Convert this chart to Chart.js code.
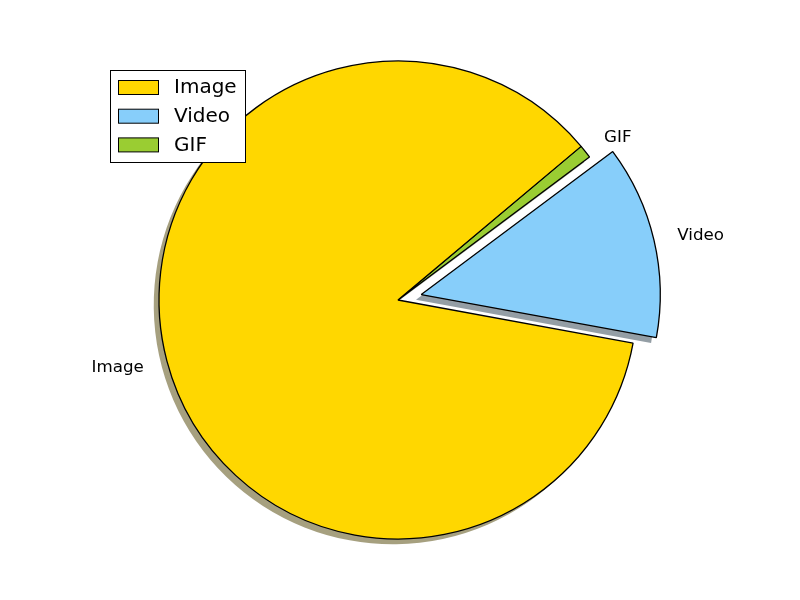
<!DOCTYPE html>
<html>
<head>
<meta charset="utf-8">
<script src="https://cdn.jsdelivr.net/npm/chart.js@4"></script>
<style>
  html, body { margin: 0; padding: 0; background: #fff; }
  #wrap { width: 800px; height: 600px; }
</style>
</head>
<body>
<div id="wrap"><canvas id="pieChart" width="800" height="600"></canvas></div>
<script>
// Data, in legend order
const categories = ['Image', 'Video', 'GIF'];
const shares = [86.0, 13.1, 0.9];
const colors = ['#FFD700', '#87CEFA', '#9ACD32'];
const explode = [0, 0.1, 0]; // fraction of radius

// Chart.js draws clockwise, matplotlib counter-clockwise, so feed them reversed
const order = [2, 1, 0];
const pieLabels = order.map(i => categories[i]);
const pieValues = order.map(i => shares[i]);
const pieColors = order.map(i => colors[i]);
const pieExplode = order.map(i => explode[i]);

// darker, half transparent copy of a hex colour (like matplotlib's Shadow)
function shadowOf(hex) {
    const r = parseInt(hex.substr(1, 2), 16) * 0.3;
    const g = parseInt(hex.substr(3, 2), 16) * 0.3;
    const b = parseInt(hex.substr(5, 2), 16) * 0.3;
    return 'rgba(' + r + ',' + g + ',' + b + ',0.5)';
}

// where a wedge really sits once it's pulled out
function wedgeCenter(arc, i) {
    const p = arc.getProps(['x', 'y', 'startAngle', 'endAngle', 'outerRadius']);
    const mid = (p.startAngle + p.endAngle) / 2;
    const off = pieExplode[i] * p.outerRadius;
    return { p, mid, dx: Math.cos(mid) * off, dy: Math.sin(mid) * off };
}

// draws shadows, then the wedges moved out by their explode value
const explodePlugin = {
    id: 'explode',
    beforeDatasetDraw(chart, args) {
        const ctx = chart.ctx;
        const meta = args.meta;
        const shift = meta.data.length ? meta.data[0].outerRadius * 0.022 : 0;
        ctx.save();
        meta.data.forEach((arc, i) => {
            const w = wedgeCenter(arc, i);
            const cx = w.p.x + w.dx - shift;
            const cy = w.p.y + w.dy + shift;
            ctx.beginPath();
            ctx.moveTo(cx, cy);
            ctx.arc(cx, cy, w.p.outerRadius, w.p.startAngle, w.p.endAngle);
            ctx.closePath();
            ctx.fillStyle = shadowOf(pieColors[i]);
            ctx.fill();
        });
        ctx.restore();

        meta.data.forEach((arc, i) => {
            const w = wedgeCenter(arc, i);
            ctx.save();
            ctx.translate(w.dx, w.dy);
            arc.draw(ctx, chart.chartArea);
            ctx.restore();
        });
        return false;
    }
};

const labelPlugin = {
    id: 'outerLabels',
    afterDatasetsDraw(chart) {
        const ctx = chart.ctx;
        const meta = chart.getDatasetMeta(0);
        ctx.save();
        ctx.font = '16.7px "DejaVu Sans"';
        ctx.fillStyle = '#000';
        ctx.textBaseline = 'middle';
        meta.data.forEach((arc, i) => {
            const w = wedgeCenter(arc, i);
            const tx = w.p.x + w.dx + Math.cos(w.mid) * w.p.outerRadius * 1.1;
            const ty = w.p.y + w.dy + Math.sin(w.mid) * w.p.outerRadius * 1.1;
            ctx.textAlign = Math.cos(w.mid) > 0 ? 'left' : 'right';
            ctx.fillText(pieLabels[i], tx, ty + 1);
        });

        // legend box, upper left
        const bx = 110.5, by = 70.5, bw = 135, bh = 92;
        ctx.fillStyle = '#fff';
        ctx.fillRect(bx, by, bw, bh);
        ctx.strokeStyle = '#000';
        ctx.lineWidth = 1;
        ctx.strokeRect(bx, by, bw, bh);
        ctx.font = '20px "DejaVu Sans"';
        ctx.textAlign = 'left';
        categories.forEach((name, i) => {
            const rowY = 87 + i * 28.7;
            ctx.fillStyle = colors[i];
            ctx.fillRect(118.5, rowY - 6.5, 40, 14);
            ctx.strokeRect(118.5, rowY - 6.5, 40, 14);
            ctx.fillStyle = '#000';
            ctx.fillText(name, 174, rowY + 1);
        });
        ctx.restore();
    }
};

const ctx = document.getElementById('pieChart').getContext('2d');
const chart = new Chart(ctx, {
    type: 'pie',
    data: {
        labels: pieLabels,
        datasets: [{
            data: pieValues,
            backgroundColor: pieColors,
            borderColor: '#000',
            borderWidth: 1.3
        }]
    },
    options: {
        responsive: false,
        animation: false,
        events: [],
        rotation: 50,
        radius: 239,
        layout: { padding: { left: 0, right: 4, top: 0, bottom: 0 } },
        plugins: {
            legend: { display: false },
            tooltip: { enabled: false }
        }
    },
    plugins: [explodePlugin, labelPlugin]
});
</script>
</body>
</html>
